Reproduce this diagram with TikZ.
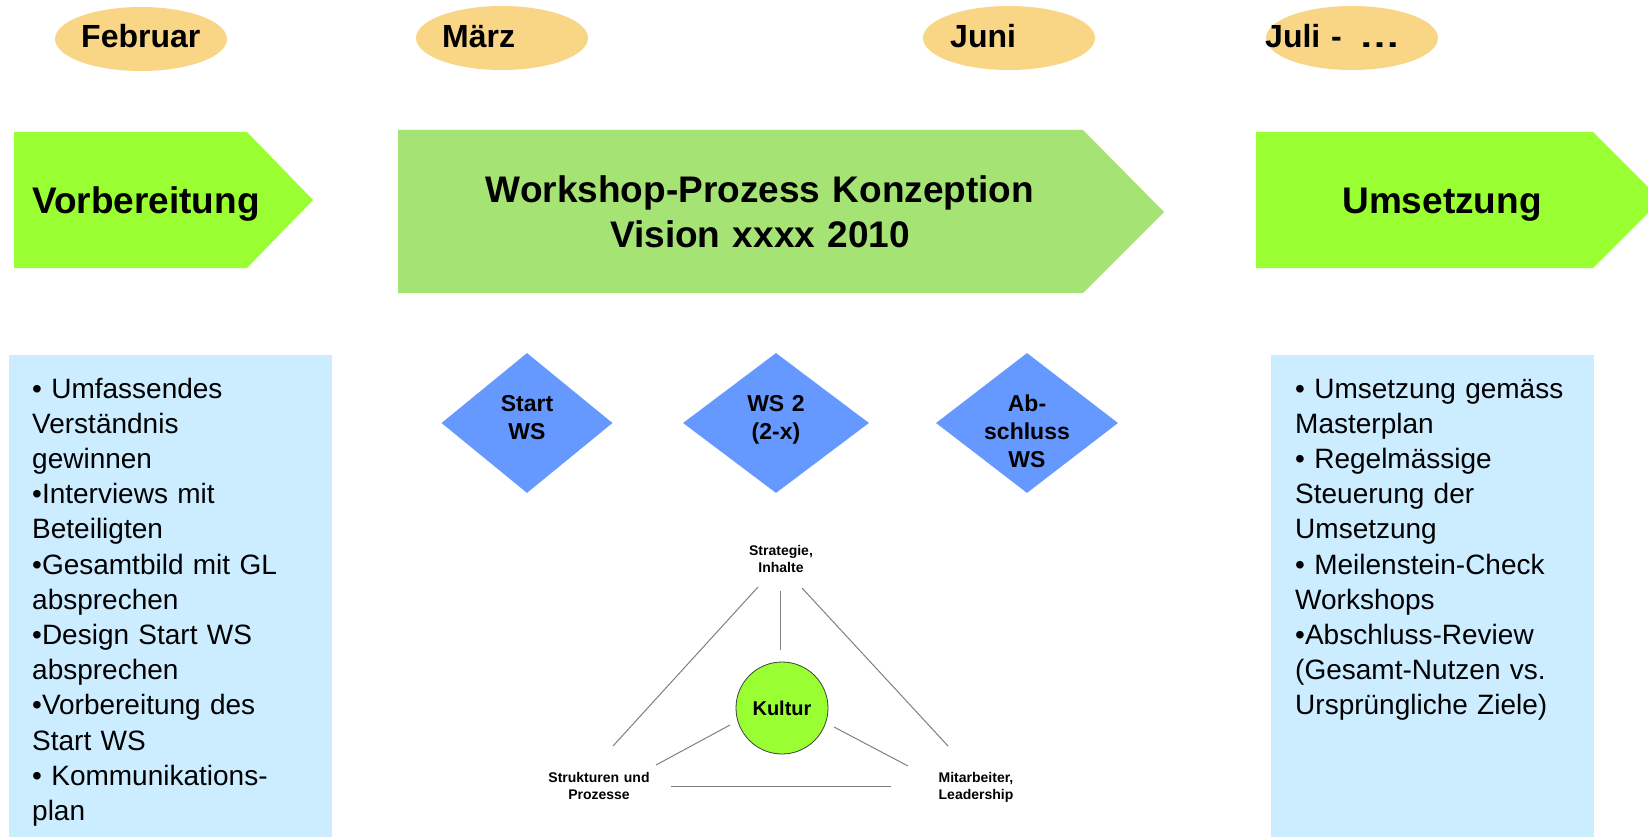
\documentclass[tikz,border=0pt]{standalone}
\usepackage{fontspec}
\setmainfont{Liberation Sans}
\usetikzlibrary{shapes.geometric}
\definecolor{monthfill}{HTML}{F9D686}
\definecolor{brightgreen}{HTML}{99FF33}
\definecolor{softgreen}{HTML}{A6E375}
\definecolor{paleblue}{HTML}{CCECFF}
\definecolor{wsblue}{HTML}{6699FF}
\definecolor{linegray}{HTML}{808080}
\begin{document}
\begin{tikzpicture}[x=1pt,y=-1pt,
  month/.style={ellipse, fill=monthfill, minimum width=172pt, minimum height=64pt, inner sep=0pt},
  monthtext/.style={anchor=base west, inner sep=0pt, font=\fontsize{32}{38}\selectfont\bfseries},
  phasetext/.style={inner sep=0pt, font=\fontsize{37}{45}\selectfont\bfseries},
  listtext/.style={anchor=base west, inner sep=0pt, text width=290pt, align=left, font=\fontsize{28}{35.2}\selectfont},
  wsbox/.style={diamond, fill=wsblue, inner sep=0pt, minimum height=140pt},
  wstext/.style={anchor=base, inner sep=0pt, text width=140pt, align=center, font=\fontsize{23}{28}\selectfont\bfseries},
  trilabel/.style={anchor=base, inner sep=0pt, text width=140pt, align=center, font=\fontsize{14}{17}\selectfont\bfseries},
  tri/.style={draw=linegray, line width=1pt}
]
\useasboundingbox (0,0) rectangle (1648,837);
\fill[white] (0,0) rectangle (1648,837);

% months
\node[month] (mFeb) at (141,39) {};
\node[month] (mMar) at (502,38) {};
\node[month] (mJun) at (1009,38) {};
\node[month] (mJul) at (1352,38) {};
\node[monthtext] (tFeb) at (81,48) {Februar};
\node[monthtext] (tMar) at (442,48) {März};
\node[monthtext] (tJun) at (950,48) {Juni};
\node[monthtext] (tJul) at (1265,48) {Juli\hspace{2pt} -\hspace{8pt} \scalebox{1.3}[1]{…}};

% phase arrows
\fill[brightgreen] (14,132) -- (247,132) -- (313,200) -- (247,268) -- (14,268) -- cycle;
\fill[softgreen] (398,130) -- (1083,130) -- (1164,212) -- (1083,293) -- (398,293) -- cycle;
\fill[brightgreen] (1256,132) -- (1593,132) -- (1661,200) -- (1593,268) -- (1256,268) -- cycle;
\node[phasetext, anchor=base west] (pVor) at (32,213) {Vorbereitung};
\node[phasetext, anchor=base, text width=700pt, align=center] (pWS) at (760,203) {Workshop-Prozess Konzeption\\Vision xxxx 2010};
\node[phasetext, anchor=base] (pUms) at (1442,214) {Umsetzung};

% lists
\fill[paleblue] (9,355) rectangle (332,840);
\fill[paleblue] (1271,355) rectangle (1594,840);
\node[listtext] (lLeft) at (32,398) {• Umfassendes\\Verständnis\\gewinnen\\•Interviews mit\\Beteiligten\\•Gesamtbild mit GL\\absprechen\\•Design Start WS\\absprechen\\•Vorbereitung des\\Start WS\\• Kommunikations-\\plan};
\node[listtext] (lRight) at (1295,398) {• Umsetzung gemäss\\Masterplan\\• Regelmässige\\Steuerung der\\Umsetzung\\• Meilenstein-Check\\Workshops\\•Abschluss-Review\\(Gesamt-Nutzen vs.\\Ursprüngliche Ziele)};

% workshops
\node[wsbox, minimum width=171pt] (dStart) at (527,423) {};
\node[wsbox, minimum width=186pt] (dWS2) at (776,423) {};
\node[wsbox, minimum width=182pt] (dAb) at (1027,423) {};
\node[wstext] (tStart) at (527,411) {Start\\WS};
\node[wstext] (tWS2) at (776,411) {WS 2\\(2-x)};
\node[wstext] (tAb) at (1027,411) {Ab-\\schluss\\WS};

% triangle
\node[trilabel] (lStrat) at (781,555) {Strategie,\\Inhalte};
\node[trilabel] (lStruk) at (599,782) {Strukturen und\\Prozesse};
\node[trilabel] (lMit) at (976,782) {Mitarbeiter,\\Leadership};
\node[circle, fill=brightgreen, draw=black!75, line width=0.8pt, minimum size=92pt, inner sep=0pt,
      font=\fontsize{20}{24}\selectfont\bfseries] (kultur) at (782,708) {Kultur};

\coordinate (a1) at (758,587); \coordinate (a2) at (613,746);
\coordinate (b1) at (802,588); \coordinate (b2) at (948,746);
\coordinate (c1) at (780,591); \coordinate (c2) at (780,650);
\coordinate (d1) at (730,725); \coordinate (d2) at (656,765);
\coordinate (e1) at (834,727); \coordinate (e2) at (908,766);
\coordinate (f1) at (671,786); \coordinate (f2) at (891,786);
\draw[tri] (a1) -- (a2);
\draw[tri] (b1) -- (b2);
\draw[tri] (c1) -- (c2);
\draw[tri] (d1) -- (d2);
\draw[tri] (e1) -- (e2);
\draw[tri] (f1) -- (f2);
\end{tikzpicture}
\end{document}
